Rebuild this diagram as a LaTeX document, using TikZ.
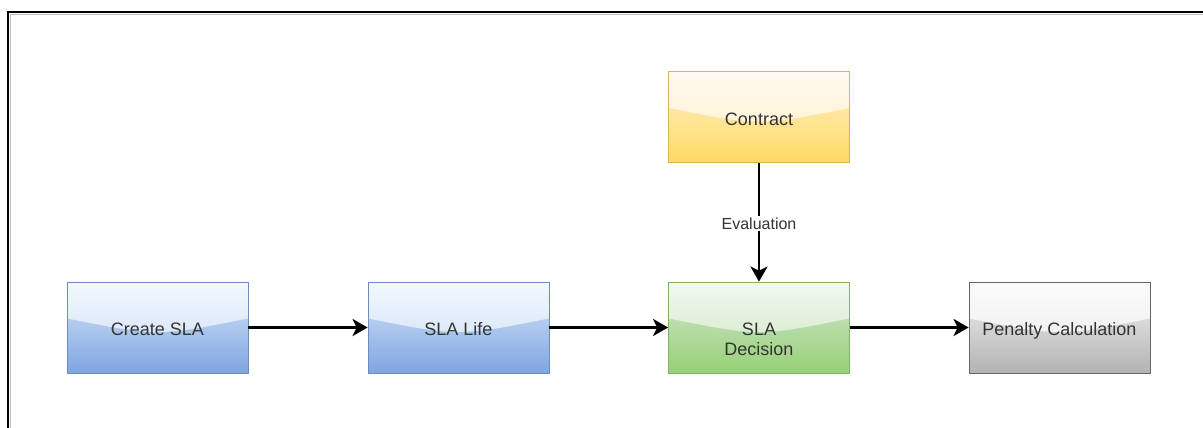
\documentclass[tikz,border=0pt]{standalone}
\usepackage{fontspec}
\setmainfont{Liberation Sans}
\usetikzlibrary{arrows.meta,calc}
\definecolor{txt}{HTML}{333333}
\definecolor{bA}{HTML}{dae8fc}\definecolor{bB}{HTML}{7ea6e0}\definecolor{bS}{HTML}{6c8ebf}\definecolor{bG}{HTML}{f3f8fe}\definecolor{bH}{HTML}{cbdcf5}
\definecolor{gA}{HTML}{d5e8d4}\definecolor{gB}{HTML}{97d077}\definecolor{gS}{HTML}{82b366}\definecolor{gG}{HTML}{f2f8f0}\definecolor{gH}{HTML}{cce6bf}
\definecolor{yA}{HTML}{fff2cc}\definecolor{yB}{HTML}{ffd966}\definecolor{yS}{HTML}{d6b656}\definecolor{yG}{HTML}{fffaf0}\definecolor{yH}{HTML}{fff0c6}
\definecolor{kA}{HTML}{f5f5f5}\definecolor{kB}{HTML}{b3b3b3}\definecolor{kS}{HTML}{666666}\definecolor{kG}{HTML}{fbfbfb}\definecolor{kH}{HTML}{ebebeb}
\tikzset{
  glassbox/.style n args={5}{
    rectangle, minimum width=181pt, minimum height=91pt, inner sep=2pt,
    top color=#1, bottom color=#2, draw=#3, line width=0.8pt,
    text=txt, font=\fontsize{18}{20}\selectfont, align=center,
    path picture={
      \shade[top color=#4, bottom color=#5]
        (path picture bounding box.north west) -- (path picture bounding box.north east)
        -- ($(path picture bounding box.north east)!0.40!(path picture bounding box.south east)$)
        .. controls ($(path picture bounding box.north)!0.60!(path picture bounding box.south)$)
        .. ($(path picture bounding box.north west)!0.40!(path picture bounding box.south west)$)
        -- cycle;
    }
  },
  oneline/.style={text height=16pt, text depth=0pt},
  bluebox/.style={glassbox={bA}{bB}{bS}{bG}{bH}},
  greenbox/.style={glassbox={gA}{gB}{gS}{gG}{gH}},
  yellowbox/.style={glassbox={yA}{yB}{yS}{yG}{yH}},
  graybox/.style={glassbox={kA}{kB}{kS}{kG}{kH}},
  arr/.style={line width=2.6pt, black, -{Stealth[length=15pt,width=17pt,inset=4pt]}},
  edgelabel/.style={fill=white, text=txt, font=\fontsize{16}{19}\selectfont, inner sep=1.5pt}
}
\begin{document}
\begin{tikzpicture}[x=1pt,y=-1pt]
\useasboundingbox (0,0) rectangle (1203,428);
\fill[white] (0,0) rectangle (1203,428);
\draw[line width=1pt, gray!50] (10.5,428) -- (10.5,14.5) -- (1203,14.5);
\draw[line width=2pt, black] (8,428) -- (8,12) -- (1203,12);

\node[bluebox, oneline]   (create)   at (157.5,327.5) {Create SLA};
\node[bluebox, oneline]   (life)     at (458.5,327.5) {SLA Life};
\node[greenbox]           (decision) at (759,327.5)   {\rule{0pt}{16pt}\\SLA\\Decision};
\node[graybox, oneline]   (penalty)  at (1059.5,327.5){Penalty Calculation};
\node[yellowbox, oneline] (contract) at (759,117)     {Contract};

\draw[arr] (create) -- (life);
\draw[arr] (life) -- (decision);
\draw[arr] (decision) -- (penalty);
\draw[arr] (contract) -- node[edgelabel, pos=0.51] (evl) {Evaluation} (decision);
\end{tikzpicture}
\end{document}
